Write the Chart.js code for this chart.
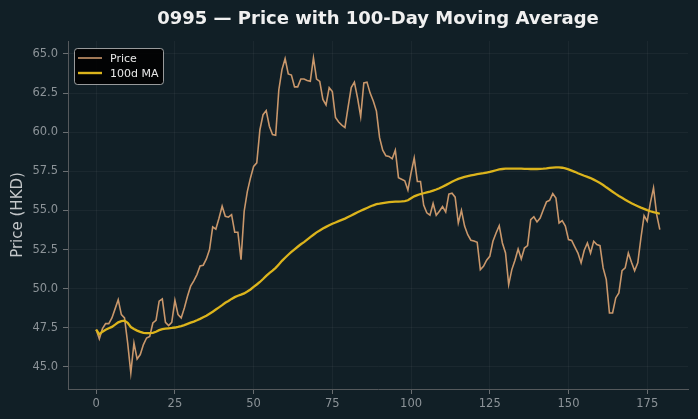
<!DOCTYPE html>
<html>
<head>
<meta charset="utf-8">
<script src="https://cdn.jsdelivr.net/npm/chart.js@4"></script>
<style>
  html, body { margin: 0; padding: 0; background: #111f26; }
  #wrap { width: 698px; height: 419px; }
</style>
</head>
<body>
<div id="wrap"><canvas id="c" width="698" height="419"></canvas></div>
<script>
const titleText = "0995 — Price with 100-Day Moving Average";
const yTitle = "Price (HKD)";
const seriesNames = ["Price", "100d MA"];
const xTicks = [0, 25, 50, 75, 100, 125, 150, 175];
const yTicks = [45.0, 47.5, 50.0, 52.5, 55.0, 57.5, 60.0, 62.5, 65.0];

const price = [
  47.39, 46.79, 47.45, 47.77, 47.77, 48.13, 48.71, 49.30, 48.34, 48.13,
  46.53, 44.62, 46.53, 45.51, 45.79, 46.43, 46.85, 46.95, 47.81, 47.98,
  49.20, 49.35, 47.85, 47.64, 47.85, 49.26, 48.34, 48.13, 48.77, 49.52,
  50.16, 50.50, 50.90, 51.45, 51.50, 51.90, 52.50, 53.95, 53.80, 54.50,
  55.27, 54.63, 54.57, 54.73, 53.61, 53.61, 51.86, 54.95, 56.20, 57.08,
  57.82, 58.04, 60.16, 61.12, 61.38, 60.38, 59.85, 59.80, 62.70, 64.00,
  64.70, 63.72, 63.65, 62.90, 62.90, 63.40, 63.40, 63.30, 63.25, 64.75,
  63.40, 63.25, 62.10, 61.75, 62.85, 62.60, 60.95, 60.65, 60.45, 60.30,
  61.60, 62.85, 63.20, 62.20, 61.00, 63.15, 63.20, 62.50, 62.00, 61.35,
  59.65, 58.85, 58.50, 58.45, 58.30, 58.85, 57.10, 57.00, 56.90, 56.30,
  57.40, 58.35, 56.85, 56.85, 55.35, 54.85, 54.70, 55.45, 54.70, 54.95,
  55.25, 54.90, 56.05, 56.10, 55.85, 54.20, 55.00, 54.00, 53.45, 53.10,
  53.05, 52.97, 51.22, 51.43, 51.82, 52.07, 53.03, 53.56, 54.03, 52.92,
  52.28, 50.26, 51.22, 51.82, 52.54, 51.90, 52.60, 52.75, 54.41, 54.60,
  54.27, 54.52, 55.05, 55.55, 55.65, 56.08, 55.80, 54.20, 54.35, 54.00,
  53.14, 53.08, 52.67, 52.28, 51.65, 52.46, 52.92, 52.28, 53.03, 52.82,
  52.75, 51.33, 50.58, 48.45, 48.45, 49.41, 49.73, 51.15, 51.33, 52.28,
  51.69, 51.15, 51.65, 53.24, 54.67, 54.31, 55.48, 56.44, 54.73, 53.77
];

const ma100 = [
  47.39, 47.08, 47.25, 47.38, 47.47, 47.56, 47.70, 47.85, 47.93, 47.96,
  47.82, 47.55, 47.42, 47.32, 47.24, 47.18, 47.16, 47.16, 47.18, 47.25,
  47.35, 47.42, 47.45, 47.47, 47.49, 47.52, 47.56, 47.61, 47.67, 47.75,
  47.83, 47.90, 47.98, 48.07, 48.17, 48.27, 48.40, 48.53, 48.67, 48.81,
  48.95, 49.10, 49.22, 49.35, 49.46, 49.55, 49.62, 49.70, 49.82, 49.95,
  50.12, 50.27, 50.43, 50.62, 50.82, 51.00, 51.15, 51.33, 51.55, 51.78,
  51.98, 52.17, 52.35, 52.52, 52.68, 52.84, 52.98, 53.14, 53.30, 53.45,
  53.60, 53.72, 53.84, 53.95, 54.05, 54.15, 54.23, 54.32, 54.40, 54.48,
  54.58, 54.68, 54.78, 54.88, 54.98, 55.07, 55.16, 55.25, 55.33, 55.40,
  55.43, 55.47, 55.50, 55.53, 55.55, 55.56, 55.57, 55.58, 55.60, 55.65,
  55.78, 55.90, 55.98, 56.05, 56.10, 56.15, 56.20, 56.27, 56.34, 56.42,
  56.52, 56.62, 56.73, 56.84, 56.93, 57.02, 57.08, 57.14, 57.20, 57.24,
  57.28, 57.32, 57.35, 57.38, 57.42, 57.46, 57.52, 57.57, 57.62, 57.65,
  57.67, 57.67, 57.67, 57.68, 57.68, 57.67, 57.66, 57.66, 57.65, 57.65,
  57.65, 57.66, 57.67, 57.69, 57.72, 57.74, 57.76, 57.76, 57.73, 57.69,
  57.63, 57.55, 57.47, 57.38, 57.30, 57.22, 57.15, 57.07, 56.97, 56.87,
  56.76, 56.63, 56.48, 56.34, 56.20, 56.06, 55.93, 55.81, 55.69, 55.57,
  55.46, 55.36, 55.27, 55.18, 55.10, 55.02, 54.95, 54.89, 54.84, 54.79
];

const priceColor = '#c9976b';
const maColor = '#dcb41c';
const FONT = "'DejaVu Sans', sans-serif";

const toPoints = arr => arr.map((v, i) => ({ x: i, y: v }));

const overlay = {
  id: 'overlay',
  afterDraw(chart) {
    const ctx = chart.ctx;
    const a = chart.chartArea;
    ctx.save();
    // Title centered over the plot area
    ctx.fillStyle = '#f0f0f0';
    ctx.font = "bold 18px " + FONT;
    ctx.textAlign = 'center';
    ctx.textBaseline = 'middle';
    ctx.fillText(titleText, (a.left + a.right) / 2, 19);

    // Legend box in the top-left of the plot area
    const bx = a.left + 6, by = a.top + 7, bw = 89, bh = 36;
    ctx.beginPath();
    if (ctx.roundRect) ctx.roundRect(bx + 0.5, by + 0.5, bw, bh, 3);
    else ctx.rect(bx + 0.5, by + 0.5, bw, bh);
    ctx.fillStyle = 'rgba(0,0,0,0.88)';
    ctx.fill();
    ctx.strokeStyle = 'rgba(200,200,200,0.75)';
    ctx.lineWidth = 1;
    ctx.stroke();

    const items = [
      { label: seriesNames[0], color: priceColor, w: 1.6, y: by + 10 },
      { label: seriesNames[1], color: maColor, w: 2.4, y: by + 25 }
    ];
    ctx.font = "11px " + FONT;
    ctx.textAlign = 'left';
    items.forEach(it => {
      ctx.beginPath();
      ctx.strokeStyle = it.color;
      ctx.lineWidth = it.w;
      ctx.moveTo(bx + 4, it.y);
      ctx.lineTo(bx + 28, it.y);
      ctx.stroke();
      ctx.fillStyle = '#e8e8e8';
      ctx.fillText(it.label, bx + 36, it.y + 1);
    });
    ctx.restore();
  }
};

const tickFont = { family: FONT, size: 11.5 };

new Chart(document.getElementById('c'), {
  type: 'line',
  data: {
    datasets: [
      {
        label: seriesNames[0],
        data: toPoints(price),
        borderColor: priceColor,
        borderWidth: 1.6,
        pointRadius: 0,
        tension: 0,
        order: 2
      },
      {
        label: seriesNames[1],
        data: toPoints(ma100),
        borderColor: maColor,
        borderWidth: 2.3,
        pointRadius: 0,
        tension: 0,
        order: 1
      }
    ]
  },
  options: {
    responsive: false,
    animation: false,
    devicePixelRatio: 1,
    layout: { padding: { top: 41, right: 10, left: 0, bottom: 0 } },
    plugins: {
      legend: { display: false },
      title: { display: false },
      tooltip: { enabled: false }
    },
    scales: {
      x: {
        type: 'linear',
        min: -8.95,
        max: 187.95,
        afterBuildTicks: s => { s.ticks = xTicks.map(v => ({ value: v })); },
        afterFit: s => { s.height = 30; },
        ticks: {
          color: '#8c9398',
          font: tickFont,
          padding: 3,
          maxRotation: 0,
          callback: v => String(v)
        },
        grid: {
          color: 'rgba(255,255,255,0.045)',
          tickColor: '#6a6f72',
          tickLength: 5,
          drawTicks: true
        },
        border: { color: '#55595c', width: 1 }
      },
      y: {
        type: 'linear',
        min: 43.59,
        max: 65.83,
        afterBuildTicks: s => { s.ticks = yTicks.map(v => ({ value: v })); },
        afterFit: s => { s.width = 68; },
        ticks: {
          color: '#8c9398',
          font: tickFont,
          padding: 5,
          callback: v => Number(v).toFixed(1)
        },
        grid: {
          color: 'rgba(255,255,255,0.045)',
          tickColor: '#6a6f72',
          tickLength: 5,
          drawTicks: true
        },
        border: { color: '#55595c', width: 1 },
        title: {
          display: true,
          text: yTitle,
          color: '#c4c7c9',
          font: { family: FONT, size: 15 },
          padding: { top: 9, bottom: 0 }
        }
      }
    }
  },
  plugins: [overlay]
});
</script>
</body>
</html>
